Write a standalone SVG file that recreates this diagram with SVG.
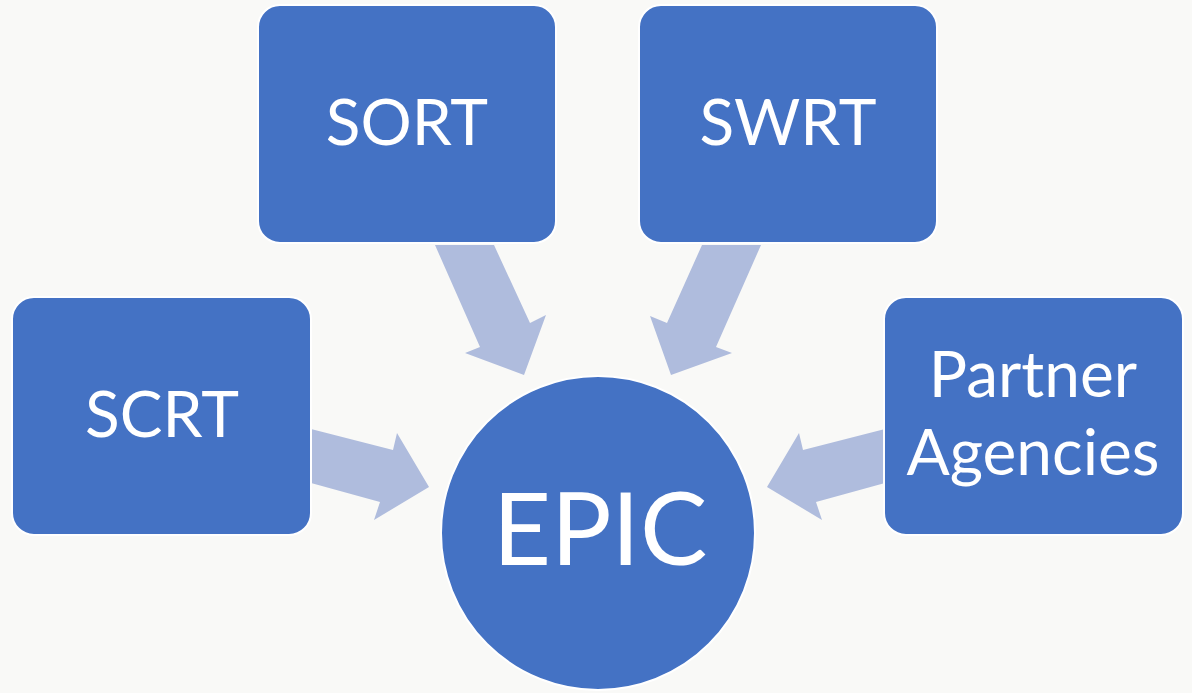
<svg xmlns="http://www.w3.org/2000/svg" width="1192" height="693" viewBox="0 0 1192 693">
<style>
.box{fill:#4472C4;stroke:#FFFFFF;stroke-width:2}
.arrow{fill:#AFBCDD;stroke:none}
.lbl{fill:#FFFFFF;font-family:Lato,"Open Sans","Liberation Sans",sans-serif;text-anchor:middle}
</style>
<rect x="0" y="0" width="1192" height="693" fill="#F9F9F7"/>
<g id="connectors">
<polygon class="arrow" points="435,245 494,245 530,323 546,315 524,375 465,353 480,347"/>
<polygon class="arrow" points="761,245 702,245 667,323 650,316 671,375 732,353 716,347"/>
<polygon class="arrow" points="311,429 393,450 397,433 429,487 374,520 380,502 311,483"/>
<polygon class="arrow" points="885,429 803,450 799,433 767,487 822,520 816,502 885,483"/>
</g>
<g id="sort">
<rect class="box" x="258" y="5" width="298" height="238" rx="22"/>
<text class="lbl" x="407" y="145" font-size="64">SORT</text>
</g>
<g id="swrt">
<rect class="box" x="639" y="5" width="298" height="238" rx="22"/>
<text class="lbl" x="788" y="145" font-size="64">SWRT</text>
</g>
<g id="scrt">
<rect class="box" x="12" y="297" width="299" height="238" rx="22"/>
<text class="lbl" x="162" y="437" font-size="64">SCRT</text>
</g>
<g id="partner">
<rect class="box" x="884" y="297" width="299" height="238" rx="22"/>
<text class="lbl" x="1033" y="397" font-size="64">Partner</text>
<text class="lbl" x="1033" y="475" font-size="64">Agencies</text>
</g>
<g id="epic">
<circle class="box" cx="598" cy="533" r="157"/>
<text class="lbl" x="600" y="565" font-size="101">EPIC</text>
</g>
</svg>
